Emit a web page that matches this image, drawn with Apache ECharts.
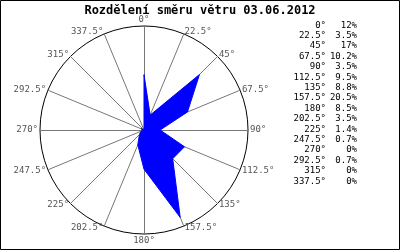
<!DOCTYPE html>
<html><head><meta charset="utf-8">
<script src="https://cdn.jsdelivr.net/npm/echarts@6/dist/echarts.min.js"></script>
<style>html,body{margin:0;padding:0;background:#fff}#c{width:400px;height:250px}</style>
</head><body><div id="c"></div>
<script>
var directions = [0, 22.5, 45, 67.5, 90, 112.5, 135, 157.5, 180, 202.5, 225, 247.5, 270, 292.5, 315, 337.5];
var percents = [12, 3.5, 17, 10.2, 3.5, 9.5, 8.8, 20.5, 8.5, 3.5, 1.4, 0.7, 0, 0.7, 0, 0];
var title = 'Rozdělení směru větru 03.06.2012';
var maxVal = 22.55;

// radar goes counter-clockwise: reorder so directions run clockwise
var order = [0];
for (var i = directions.length - 1; i >= 1; i--) order.push(i);
var indicators = order.map(function(i){ return {name: directions[i] + '°', max: maxVal, min: 0}; });
var vals = order.map(function(i){ return percents[i]; });

var legendDir = directions.map(function(d){ return d + '°'; }).join('\n');
var legendPct = percents.map(function(p){ return p + '%'; }).join('\n');

var chart = echarts.init(document.getElementById('c'), null, {renderer:'canvas'});
chart.setOption({
  animation: false,
  title: {text: title, left: 'center', top: 0, textStyle: {fontFamily: 'DejaVu Sans Mono', fontSize: 12, fontWeight: 'bold', color: '#000'}},
  radar: {
    center: [144, 130], radius: 104, startAngle: 90, shape: 'circle', splitNumber: 1,
    indicator: indicators,
    axisName: {color: '#555', fontFamily: 'DejaVu Sans Mono', fontSize: 9},
    nameGap: 2,
    axisLine: {lineStyle: {color: '#777', width: 1}},
    splitLine: {lineStyle: {color: '#000', width: 1}},
    splitArea: {show: false},
    axisTick: {show: false}, axisLabel: {show: false}
  },
  series: [{
    type: 'radar', symbol: 'none',
    lineStyle: {color: '#0000ff', width: 1},
    areaStyle: {color: '#0000ff', opacity: 1},
    data: [{value: vals}]
  }],
  graphic: [
    {type: 'rect', shape: {x: 0.5, y: 0.5, width: 399, height: 249}, style: {fill: null, stroke: '#000', lineWidth: 1}},
    {type: 'text', x: 326, y: 20, style: {text: legendDir, align: 'right', verticalAlign: 'top', fill: '#000', font: '9px "DejaVu Sans Mono"', lineHeight: 10.4}},
    {type: 'text', x: 357, y: 20, style: {text: legendPct, align: 'right', verticalAlign: 'top', fill: '#000', font: '9px "DejaVu Sans Mono"', lineHeight: 10.4}}
  ]
});
</script></body></html>
